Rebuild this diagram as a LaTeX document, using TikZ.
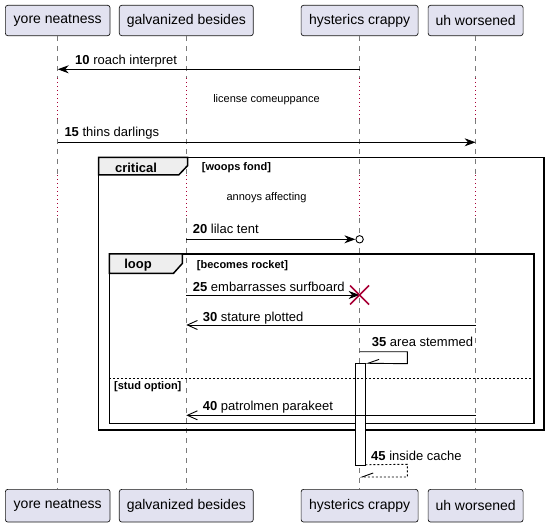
\documentclass[tikz,border=0pt]{standalone}
\usepackage{fontspec}
\setmainfont{Liberation Sans}
\usetikzlibrary{arrows.meta}
\definecolor{partfill}{HTML}{E2E2F0}
\definecolor{partline}{HTML}{181818}
\definecolor{delayred}{HTML}{A80036}
\definecolor{tabfill}{HTML}{EEEEEE}
\definecolor{lifegray}{HTML}{7A7A7A}

% lifeline x positions
\def\xA{57.7}
\def\xB{186.3}
\def\xC{359.6}
\def\xD{475.6}

\tikzset{
  participant/.style={draw=partline, fill=partfill, rounded corners=2.5pt,
    line width=0.7pt, inner sep=0pt, font=\fontsize{14}{16}\selectfont},
  lifeline/.style={draw=lifegray, line width=0.6pt, dash pattern=on 5pt off 5pt},
  delayline/.style={draw=delayred, line width=0.8pt, dash pattern=on 1pt off 3pt},
  msg/.style={draw=black, line width=0.9pt},
  retmsg/.style={draw=black, line width=0.9pt, dash pattern=on 2pt off 2pt},
  filledtip/.style={-{Stealth[length=11pt,width=8pt,inset=3.5pt]}},
  opentip/.style={-{Straight Barb[length=10pt,width=9pt]}},
  halftip/.style={-{Straight Barb[right,length=11pt,width=8pt]}},
  msglabel/.style={anchor=base west, inner sep=0pt, font=\fontsize{13}{15}\selectfont},
  delaylabel/.style={inner sep=0pt, font=\fontsize{11}{13}\selectfont},
  frame/.style={draw=black, line width=1.5pt},
  tab/.style={draw=black, fill=tabfill, line width=1.5pt},
  tabname/.style={inner sep=0pt, font=\fontsize{13}{15}\selectfont\bfseries},
  guard/.style={anchor=base west, inner sep=0pt, font=\fontsize{11}{13}\selectfont\bfseries},
  destroy/.style={draw=delayred, line width=1.6pt},
  activation/.style={draw=black, fill=white, line width=0.9pt},
}

\begin{document}
\begin{tikzpicture}[x=1pt,y=-1pt]
\useasboundingbox (0,0) rectangle (548,526);

% participants, top row
\node[participant, minimum width=104.7pt, minimum height=30.4pt] (At) at (\xA,20.5) {yore neatness};
\node[participant, minimum width=134pt, minimum height=30.4pt] (Bt) at (\xB,20.5) {galvanized besides};
\node[participant, minimum width=117pt, minimum height=30.4pt] (Ct) at (\xC,20.5) {hysterics crappy};
\node[participant, minimum width=95pt, minimum height=30.4pt] (Dt) at (\xD,20.5) {uh worsened};

% participants, bottom row
\node[participant, minimum width=104.7pt, minimum height=32.7pt] (Ab) at (\xA,505.7) {yore neatness};
\node[participant, minimum width=134pt, minimum height=32.7pt] (Bb) at (\xB,505.7) {galvanized besides};
\node[participant, minimum width=117pt, minimum height=32.7pt] (Cb) at (\xC,505.7) {hysterics crappy};
\node[participant, minimum width=95pt, minimum height=32.7pt] (Db) at (\xD,505.7) {uh worsened};

% lifelines, broken by the two delays
\foreach \p in {A,B,C,D}{
  \draw[lifeline] (\p t.south) -- (\p t.south |- 0,78);
  \draw[delayline] (\p t.south |- 0,78) -- (\p t.south |- 0,119);
  \draw[lifeline] (\p t.south |- 0,119) -- (\p t.south |- 0,175);
  \draw[delayline] (\p t.south |- 0,175) -- (\p t.south |- 0,218);
  \draw[lifeline] (\p t.south |- 0,218) -- (\p b.north);
}

% 10
\coordinate (m10s) at (\xC,69.3);
\coordinate (m10e) at (\xA,69.3);
\draw[msg, filledtip] (m10s) -- (m10e);
\node[msglabel] (l10) at (75,65) {\textbf{10} roach interpret};

\node[delaylabel] (d1) at (266.5,100) {license comeuppance};

% 15
\coordinate (m15s) at (\xA,142.3);
\coordinate (m15e) at (\xD,142.3);
\draw[msg, filledtip] (m15s) -- (m15e);
\node[msglabel] (l15) at (64.3,136.7) {\textbf{15} thins darlings};

% critical frame
\draw[frame] (98.7,157.3) rectangle (544,430);
\draw[tab] (98.7,157.3) -- (187.7,157.3) -- (187.7,165.5) -- (178.7,175) -- (98.7,175) -- cycle;
\node[tabname] (tcrit) at (136,167.5) {critical};
\node[guard] (gcrit) at (201.7,171) {[woops fond]};

\node[delaylabel] (d2) at (266.5,198) {annoys affecting};

% 20
\coordinate (m20s) at (\xB,239.3);
\coordinate (m20e) at (\xC-4.2,239.3);
\draw[msg, filledtip] (m20s) -- (m20e);
\node[draw=black, fill=white, line width=0.9pt, circle, inner sep=0pt, minimum size=7.4pt] (c20) at (\xC,239.3) {};
\node[msglabel] (l20) at (192.7,234) {\textbf{20} lilac tent};

% loop frame
\draw[frame] (109.3,254) rectangle (534,423.3);
\draw[tab] (109.3,254) -- (182.3,254) -- (182.3,263.5) -- (173.5,273.3) -- (109.3,273.3) -- cycle;
\node[tabname] (tloop) at (138,264.7) {loop};
\node[guard] (gloop) at (196.7,268.5) {[becomes rocket]};

% 25 with destruction
\coordinate (m25s) at (\xB,295);
\coordinate (m25e) at (\xC,295);
\draw[msg, filledtip] (m25s) -- (m25e);
\draw[destroy] (\xC-9.5,285.5) -- (\xC+9.5,304.5);
\draw[destroy] (\xC-9.5,304.5) -- (\xC+9.5,285.5);
\node[msglabel] (l25) at (192.7,291.5) {\textbf{25} embarrasses surfboard};

% 30
\coordinate (m30s) at (\xD,325);
\coordinate (m30e) at (\xB,325);
\draw[msg, opentip] (m30s) -- (m30e);
\node[msglabel] (l30) at (202.7,321) {\textbf{30} stature plotted};

% activation bar on hysterics crappy
\node[activation, minimum width=9.7pt, minimum height=101.6pt, inner sep=0pt] (act) at (\xC+0.55,414.5) {};

% 35 self message
\coordinate (m35s) at (\xC,351.7);
\coordinate (m35e) at (act.north east);
\draw[msg, halftip] (m35s) -- (407.3,351.7) -- (407.3,363.7) -- (m35e);
\node[msglabel] (l35) at (371.7,346) {\textbf{35} area stemmed};

% else separator
\draw[draw=black, line width=0.8pt, dash pattern=on 2pt off 2pt] (109.3,378.3) -- (534,378.3);
\node[guard] (gelse) at (114,389.8) {[stud option]};

% 40
\coordinate (m40s) at (\xD,415.3);
\coordinate (m40e) at (\xB,415.3);
\draw[msg, opentip] (m40s) -- (m40e);
\node[msglabel] (l40) at (202.7,410.3) {\textbf{40} patrolmen parakeet};

% 45 return
\coordinate (m45s) at ([yshift=1pt]act.south east);
\coordinate (m45e) at (\xC,477);
\draw[retmsg, halftip] (m45s) -- (407.3,464.3) -- (407.3,477) -- (m45e);
\node[msglabel] (l45) at (371,460) {\textbf{45} inside cache};

\end{tikzpicture}
\end{document}
